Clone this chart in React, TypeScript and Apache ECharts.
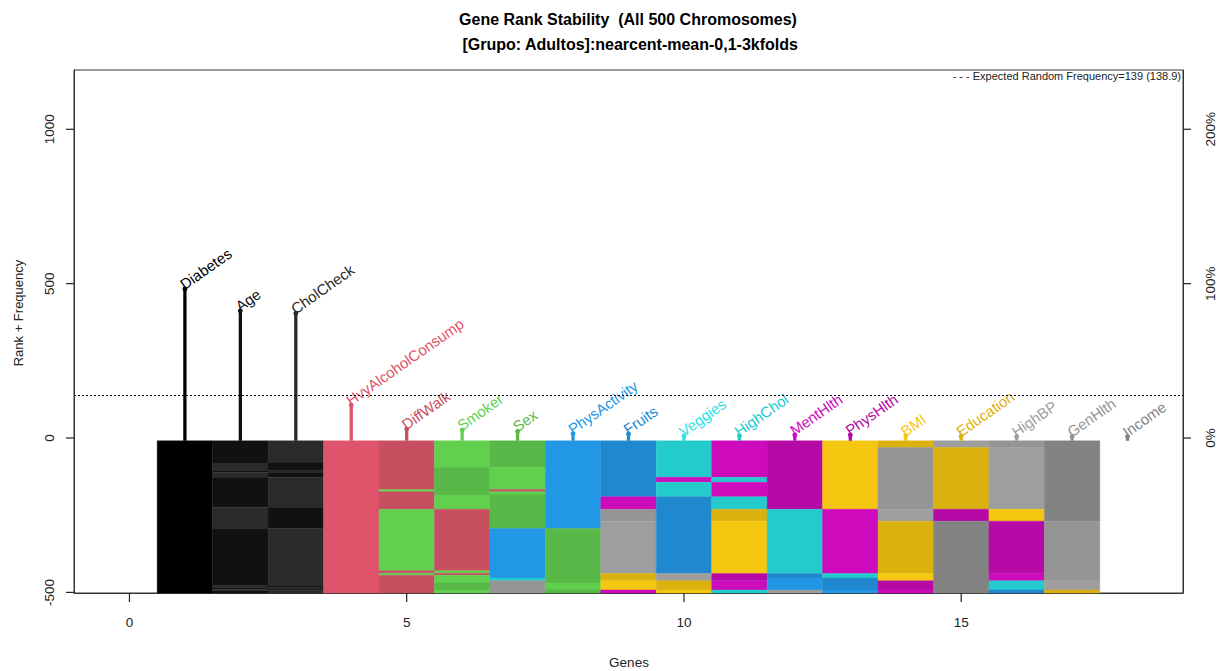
import React, { useEffect, useRef } from "react";
import * as echarts from "echarts";

const genes = [
  "Diabetes", "Age", "CholCheck", "HvyAlcoholConsump", "DiffWalk", "Smoker", "Sex",
  "PhysActivity", "Fruits", "Veggies", "HighChol", "MentHlth", "PhysHlth", "BMI",
  "Education", "HighBP", "GenHlth", "Income",
];
const geneColors = [
  "#000000", "#111111", "#2a2a2a", "#DF536B", "#C84F60", "#61D04F", "#58B848",
  "#2297E6", "#2088CF", "#28E2E5", "#24CBCC", "#CD0BBC", "#B50AA5", "#F5C710",
  "#DBB10F", "#9E9E9E", "#959595", "#838383",
];
// lollipop frequency per gene (x = 1..18)
const frequencies = [483, 412, 404, 107, 29, 26, 22, 14, 13, 7, 7, 10, 10, 7, 6, 5, 5, 5];
const expectedFrequency = 139;

// rank columns (x = 1..17): [geneIndex, chromosomeCount] from top to bottom, 500 total
const rank1 = [[0, 500]];
const rank2 = [[1, 73], [2, 25], [1, 5], [2, 17], [1, 98], [2, 70], [1, 188], [2, 7], [1, 5], [2, 5], [1, 7]];
const rank3 = [[2, 73], [1, 25], [2, 5], [1, 17], [2, 98], [1, 70], [2, 188], [1, 7], [2, 5], [1, 5], [2, 7]];
const rank4 = [[3, 500]];
const rank5 = [[4, 160], [5, 7], [4, 58], [5, 202], [4, 8], [5, 7], [4, 58]];
const rank6 = [[5, 87], [6, 91], [5, 47], [4, 202], [5, 8], [4, 7], [5, 25], [6, 23], [5, 10]];
const rank7 = [[6, 87], [5, 73], [4, 7], [5, 11], [6, 110], [7, 163], [10, 9], [16, 40]];
const rank8 = [[7, 288], [6, 179], [5, 23], [6, 10]];
const rank9 = [[8, 184], [11, 41], [16, 39], [15, 172], [14, 24], [13, 30], [11, 10]];
const rank10 = [[10, 120], [11, 16], [10, 48], [8, 252], [15, 24], [14, 30], [13, 10]];
const rank11 = [[11, 120], [10, 16], [11, 48], [10, 41], [14, 39], [13, 172], [12, 24], [11, 30], [10, 10]];
const rank12 = [[12, 225], [10, 211], [8, 15], [7, 39], [15, 10]];
const rank13 = [[13, 225], [11, 211], [10, 15], [8, 39], [7, 10]];
const rank14 = [[14, 22], [16, 203], [15, 39], [14, 172], [13, 24], [12, 30], [11, 10]];
const rank15 = [[15, 22], [14, 203], [12, 39], [17, 236]];
const rank16 = [[16, 22], [15, 203], [13, 39], [12, 172], [11, 24], [10, 30], [8, 10]];
const rank17 = [[17, 264], [16, 196], [15, 30], [14, 10]];
const rankColumns = [rank1, rank2, rank3, rank4, rank5, rank6, rank7, rank8, rank9, rank10,
  rank11, rank12, rank13, rank14, rank15, rank16, rank17];

const xTicks = [0, 5, 10, 15];
const yTicks = [-500, 0, 500, 1000];
const pctTicks = [0, 100, 200];

const FONT = "Liberation Sans, Arial, sans-serif";
const COL_TOP = -9;
const COL_BOTTOM = -502;
const Y_MAX = 1192;
const X_MIN = -1;
const X_MAX = 19;
const TOTAL = 500;
const AXIS_COLOR = "#333";

export default function App() {
  const ref = useRef<HTMLDivElement>(null);
  useEffect(() => {
    if (!ref.current) return;
    const chart = echarts.init(ref.current, null, { renderer: "svg" });

    const segData: number[][] = [];
    rankColumns.forEach((col, ci) => {
      let start = 0;
      col.forEach(([g, n]) => {
        segData.push([ci + 1, start, start + n, g]);
        start += n;
      });
    });
    const lolliData = frequencies.map((f, i) => [i + 1, f, i]);
    const scale = (COL_TOP - COL_BOTTOM) / TOTAL;

    // tick marks: [kind, value]  kind 0 = bottom x, 1 = left y, 2 = right %
    const tickData: number[][] = [
      ...xTicks.map((v) => [0, v]),
      ...yTicks.map((v) => [1, v]),
      ...pctTicks.map((v) => [2, v * 5]),
    ];

    const axisLine = { show: true, onZero: false, lineStyle: { color: AXIS_COLOR, width: 1 } };

    const option: any = {
      animation: false,
      backgroundColor: "#ffffff",
      grid: { left: 74, right: 40, top: 70, bottom: 78, show: true, borderColor: AXIS_COLOR, borderWidth: 1, backgroundColor: "transparent" },
      xAxis: {
        type: "value", min: X_MIN, max: X_MAX,
        axisLine,
        splitLine: { show: false },
        axisTick: { show: false },
        axisLabel: { customValues: xTicks, fontSize: 13.5, fontFamily: FONT, color: "#222", margin: 22 },
      },
      yAxis: [
        {
          type: "value", min: COL_BOTTOM, max: Y_MAX, position: "left",
          axisLine,
          splitLine: { show: false },
          axisTick: { show: false },
          axisLabel: { customValues: yTicks, rotate: 90, fontSize: 13.5, fontFamily: FONT, color: "#222", margin: 18, formatter: (v: number) => String(v) },
        },
        {
          type: "value", min: COL_BOTTOM / 5, max: Y_MAX / 5, position: "right",
          axisLine,
          splitLine: { show: false },
          axisTick: { show: false },
          axisLabel: { customValues: pctTicks, rotate: 90, fontSize: 13.5, fontFamily: FONT, color: "#222", margin: 20, formatter: (v: number) => v + "%" },
        },
      ],
      series: [
        {
          type: "custom",
          xAxisIndex: 0, yAxisIndex: 0,
          data: segData,
          encode: { x: 0, y: 1 },
          silent: true,
          renderItem: (params: any, api: any) => {
            const c = api.value(0), s = api.value(1), e = api.value(2), g = api.value(3);
            const p0 = api.coord([c - 0.5, COL_TOP - s * scale]);
            const p1 = api.coord([c + 0.5, COL_TOP - e * scale]);
            return {
              type: "rect",
              shape: { x: p0[0], y: p0[1], width: p1[0] - p0[0], height: p1[1] - p0[1] },
              style: { fill: geneColors[g], stroke: geneColors[g], lineWidth: 0.4 },
            };
          },
        },
        {
          type: "custom",
          xAxisIndex: 0, yAxisIndex: 0,
          data: lolliData,
          encode: { x: 0, y: 1 },
          silent: true,
          renderItem: (params: any, api: any) => {
            const x = api.value(0), f = api.value(1), g = api.value(2);
            const base = api.coord([x, COL_TOP]);
            const top = api.coord([x, f]);
            const color = geneColors[g];
            return {
              type: "group",
              children: [
                { type: "line", shape: { x1: base[0], y1: base[1], x2: top[0], y2: top[1] }, style: { stroke: color, lineWidth: 3.3 } },
                { type: "circle", shape: { cx: top[0], cy: top[1], r: 2.4 }, style: { fill: color } },
                {
                  type: "text", x: top[0] + 1, y: top[1] + 3, rotation: (35 * Math.PI) / 180,
                  style: { text: genes[g], fill: color, font: `15px ${FONT}`, align: "left", verticalAlign: "bottom" },
                },
              ],
            };
          },
          markLine: {
            silent: true, symbol: "none",
            label: { show: false },
            lineStyle: { type: [2, 2], color: "#000", width: 1 },
            data: [{ yAxis: expectedFrequency }],
          },
        },
        {
          type: "custom",
          xAxisIndex: 0, yAxisIndex: 0,
          data: tickData,
          encode: { x: 1, y: 1 },
          silent: true,
          clip: false,
          z: 10,
          renderItem: (params: any, api: any) => {
            const kind = api.value(0), v = api.value(1);
            let shape;
            if (kind === 0) {
              const p = api.coord([v, COL_BOTTOM]);
              shape = { x: p[0] - 0.6, y: p[1], width: 1.2, height: 9 };
            } else if (kind === 1) {
              const p = api.coord([X_MIN, v]);
              shape = { x: p[0] - 8, y: p[1] - 0.6, width: 8, height: 1.2 };
            } else {
              const p = api.coord([X_MAX, v]);
              shape = { x: p[0], y: p[1] - 0.6, width: 8, height: 1.2 };
            }
            return { type: "rect", shape, style: { fill: "#222" } };
          },
        },
      ],
      graphic: [
        { type: "text", x: 628, y: 19, style: { text: "Gene Rank Stability  (All 500 Chromosomes)", font: `bold 16px ${FONT}`, fill: "#000", align: "center", verticalAlign: "middle" } },
        { type: "text", x: 628, y: 44, style: { text: " [Grupo: Adultos]:nearcent-mean-0,1-3kfolds", font: `bold 16px ${FONT}`, fill: "#000", align: "center", verticalAlign: "middle" } },
        { type: "text", x: 629, y: 662, style: { text: "Genes", font: `13.5px ${FONT}`, fill: "#222", align: "center", verticalAlign: "middle" } },
        { type: "text", x: 18, y: 313, rotation: Math.PI / 2, style: { text: "Rank + Frequency", font: `13px ${FONT}`, fill: "#222", align: "center", verticalAlign: "middle" } },
        { type: "text", x: 1181, y: 76, style: { text: "- - - Expected Random Frequency=139 (138.9)", font: `11px ${FONT}`, fill: "#222", align: "right", verticalAlign: "middle" } },
      ],
    };
    chart.setOption(option);
    return () => chart.dispose();
  }, []);
  return <div ref={ref} style={{ position: "absolute", left: 0, top: 0, width: 1223, height: 671 }} />;
}
